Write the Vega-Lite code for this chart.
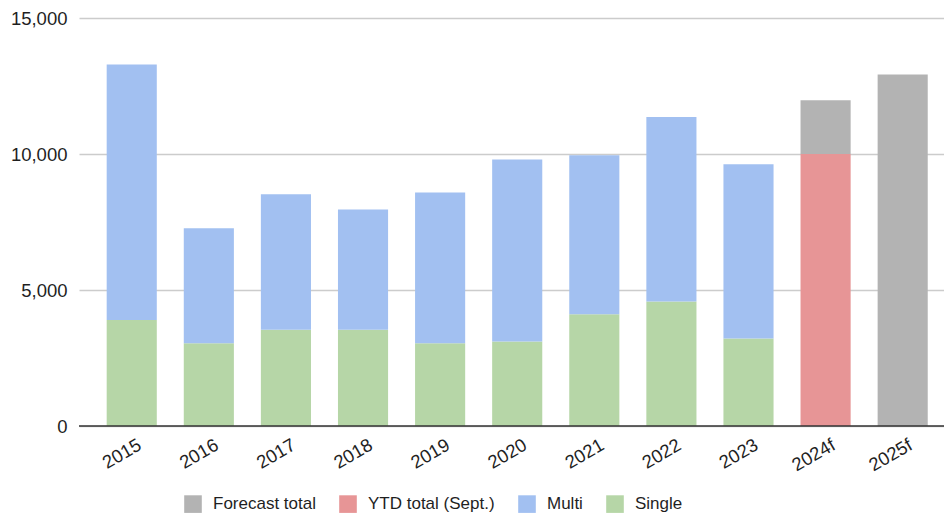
{
  "$schema": "https://vega.github.io/schema/vega-lite/v6.json",
  "width": 865,
  "height": 408,
  "autosize": {"type": "none"},
  "padding": {"left": 79, "top": 18, "right": 0, "bottom": 93},
  "background": "white",
  "config": {
    "view": {"stroke": null},
    "font": "Liberation Sans",
    "axis": {"labelFont": "Liberation Sans", "labelColor": "#1f1f1f", "labelFontSize": 18.5}
  },
  "layer": [
    {
      "data": {
        "values": [
          {"year": "2015", "series": "Single", "value": 3900, "ord": 1},
          {"year": "2015", "series": "Multi", "value": 9390, "ord": 2},
          {"year": "2016", "series": "Single", "value": 3040, "ord": 1},
          {"year": "2016", "series": "Multi", "value": 4230, "ord": 2},
          {"year": "2017", "series": "Single", "value": 3540, "ord": 1},
          {"year": "2017", "series": "Multi", "value": 4980, "ord": 2},
          {"year": "2018", "series": "Single", "value": 3540, "ord": 1},
          {"year": "2018", "series": "Multi", "value": 4420, "ord": 2},
          {"year": "2019", "series": "Single", "value": 3040, "ord": 1},
          {"year": "2019", "series": "Multi", "value": 5540, "ord": 2},
          {"year": "2020", "series": "Single", "value": 3110, "ord": 1},
          {"year": "2020", "series": "Multi", "value": 6690, "ord": 2},
          {"year": "2021", "series": "Single", "value": 4110, "ord": 1},
          {"year": "2021", "series": "Multi", "value": 5840, "ord": 2},
          {"year": "2022", "series": "Single", "value": 4580, "ord": 1},
          {"year": "2022", "series": "Multi", "value": 6780, "ord": 2},
          {"year": "2023", "series": "Single", "value": 3220, "ord": 1},
          {"year": "2023", "series": "Multi", "value": 6400, "ord": 2},
          {"year": "2024f", "series": "YTD total (Sept.)", "value": 10000, "ord": 3},
          {"year": "2024f", "series": "Forecast total", "value": 1980, "ord": 4},
          {"year": "2025f", "series": "Forecast total", "value": 12920, "ord": 4}
        ]
      },
      "mark": {"type": "bar"},
      "encoding": {
        "x": {
          "field": "year",
          "type": "nominal",
          "sort": null,
          "title": null,
          "scale": {"paddingInner": 0.35, "paddingOuter": 0.285, "align": 0.63},
          "axis": {
            "labelAngle": -30,
            "labelAlign": "right",
            "labelBaseline": "middle",
            "labelOffset": 8,
            "labelPadding": 17,
            "labelFontSize": 18.5,
            "ticks": false,
            "domain": false,
            "grid": false
          }
        },
        "y": {
          "field": "value",
          "type": "quantitative",
          "stack": "zero",
          "title": null,
          "scale": {"domain": [0, 15000], "nice": false},
          "axis": {
            "values": [0, 5000, 10000, 15000],
            "format": ",.0f",
            "ticks": false,
            "domain": false,
            "labelPadding": 12,
            "labelFontSize": 18.5,
            "gridColor": "#cccccc",
            "gridWidth": 1.3
          }
        },
        "color": {
          "field": "series",
          "type": "nominal",
          "scale": {
            "domain": ["Forecast total", "YTD total (Sept.)", "Multi", "Single"],
            "range": ["#b3b3b3", "#e79596", "#a2c0f1", "#b6d6a7"]
          },
          "legend": {
            "title": null,
            "orient": "none",
            "direction": "horizontal",
            "legendX": 105,
            "legendY": 477,
            "symbolType": "square",
            "symbolSize": 310,
            "symbolStrokeWidth": 0,
            "labelFontSize": 17,
            "labelFont": "Liberation Sans",
            "labelColor": "#1f1f1f",
            "labelOffset": 11,
            "columnPadding": 23
          }
        },
        "order": {"field": "ord", "type": "quantitative"}
      }
    },
    {
      "data": {"values": [{"base": 0}]},
      "mark": {"type": "rule", "color": "#333333", "strokeWidth": 1.5},
      "encoding": {
        "y": {
          "field": "base",
          "type": "quantitative",
          "title": null,
          "axis": {
            "values": [0, 5000, 10000, 15000],
            "format": ",.0f",
            "ticks": false,
            "domain": false,
            "labelPadding": 12,
            "labelFontSize": 18.5,
            "gridColor": "#cccccc",
            "gridWidth": 1.3
          }
        }
      }
    }
  ]
}
